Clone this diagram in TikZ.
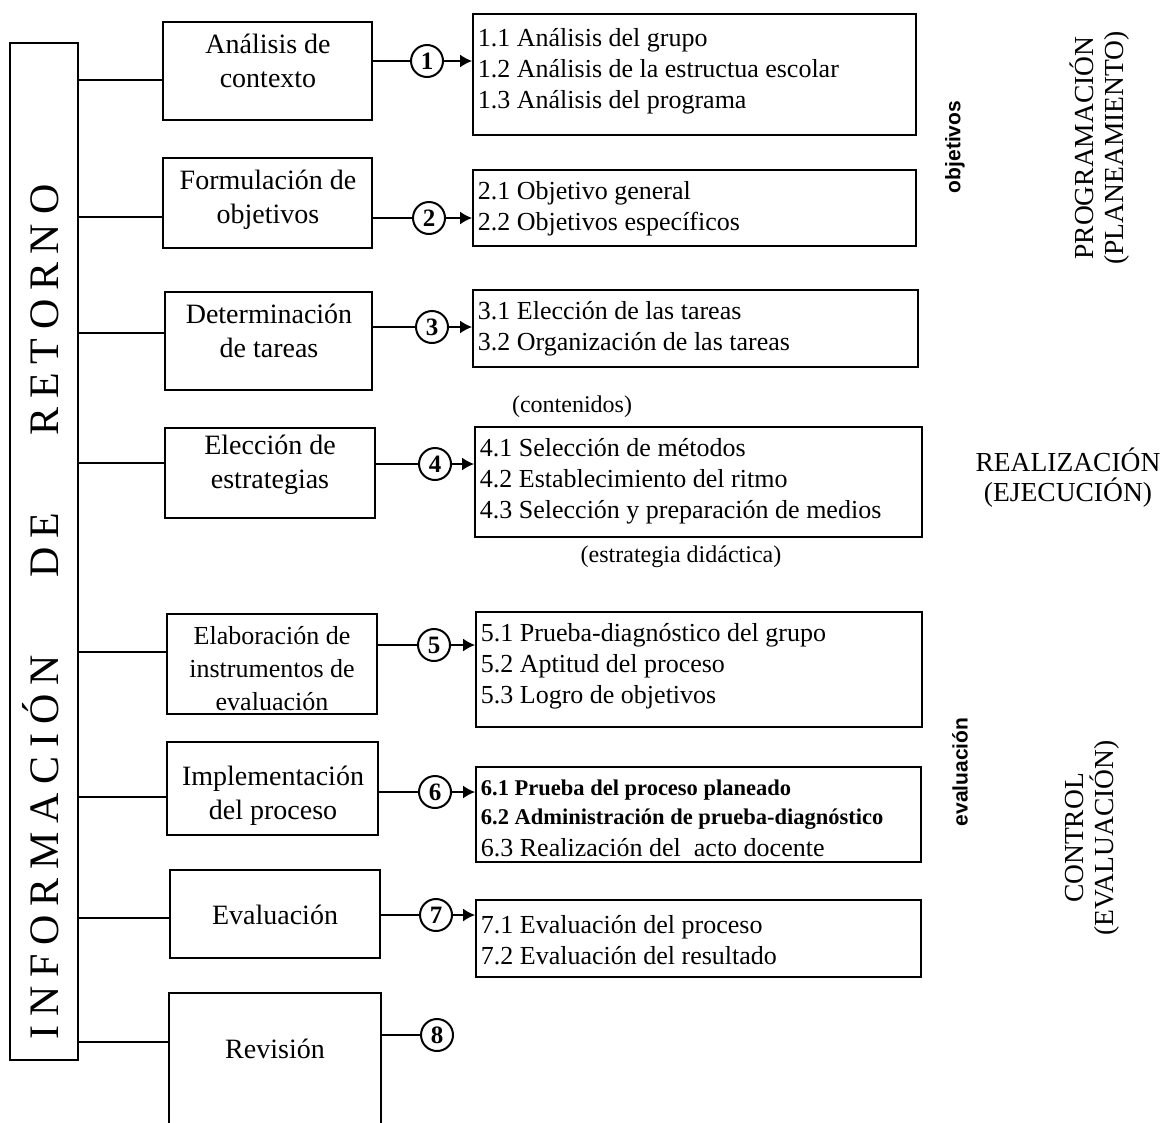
\documentclass[tikz,border=0pt]{standalone}
\usepackage{fontspec}
\setmainfont{Liberation Serif}
\newfontfamily\sansf{Liberation Sans}
\usetikzlibrary{arrows.meta,calc}
\begin{document}
\begin{tikzpicture}[x=1pt,y=-1pt, line width=1.8pt,
 mainbox/.style={draw, line width=2pt, inner sep=0pt},
 mtext/.style={align=center, inner sep=0pt, font=\fontsize{28}{34}\selectfont},
 detbox/.style={draw, line width=1.8pt, inner sep=0pt},
 dettext/.style={align=left, anchor=west, inner sep=0pt, font=\fontsize{26}{31}\selectfont},
 num/.style={draw, circle, minimum size=32pt, inner sep=0pt, line width=2pt, font=\fontsize{25}{25}\selectfont\bfseries},
 arr/.style={-{Latex[length=12pt,width=13pt]}},
 side/.style={align=center, inner sep=0pt, font=\fontsize{27.5}{30}\selectfont},
 small/.style={inner sep=0pt, font=\sansf\bfseries\fontsize{21}{21}\selectfont},
 paren/.style={inner sep=0pt, font=\fontsize{24}{24}\selectfont},
]
\useasboundingbox (0,0) rectangle (1161,1122);
\fill[white] (0,0) rectangle (1161,1122);
\begin{scope}
\clip (0,0) rectangle (1161,1122);

% left tall box
\node[mainbox, minimum width=68pt, minimum height=1017pt] (L) at (44,551.5) {};
\node[rotate=90, inner sep=0pt, font=\fontsize{42}{42}\selectfont] (Lt) at (41,612)
 {\makebox[855pt]{I\hfill N\hfill F\hfill O\hfill R\hfill M\hfill A\hfill C\hfill I\hfill Ó\hfill N\hfill\hspace{60pt}\hfill D\hfill E\hfill\hspace{60pt}\hfill R\hfill E\hfill T\hfill O\hfill R\hfill N\hfill O}};

% main boxes
\node[mainbox, minimum width=209pt, minimum height=98pt] (m1) at (267.5,71) {};
\node[mtext] (t1) at (268,61) {Análisis de\\contexto};
\node[mainbox, minimum width=209pt, minimum height=90pt] (m2) at (267.5,203) {};
\node[mtext] (t2) at (268,200) {Formulación de\\objetivos};
\node[mainbox, minimum width=207pt, minimum height=98pt] (m3) at (268.5,341) {};
\node[mtext] (t3) at (269,331) {Determinación\\de tareas};
\node[mainbox, minimum width=210pt, minimum height=90pt] (m4) at (270,473) {};
\node[mtext] (t4) at (270,465) {Elección de\\estrategias};
\node[mainbox, minimum width=210pt, minimum height=100pt] (m5) at (272,664) {};
\node[mtext, font=\fontsize{26}{33}\selectfont] (t5) at (272,669) {Elaboración de\\instrumentos de\\evaluación};
\node[mainbox, minimum width=211pt, minimum height=93pt] (m6) at (272.5,788.5) {};
\node[mtext] (t6) at (273,796) {Implementación\\del proceso};
\node[mainbox, minimum width=210pt, minimum height=88pt] (m7) at (275,914) {};
\node[mtext] (t7) at (275,915) {Evaluación};
\node[minimum width=210pt, minimum height=150pt, inner sep=0pt, anchor=north] (m8) at (275,993) {};
\draw[line width=2pt] (m8.south west) -- (m8.north west) -- (m8.north east) -- (m8.south east);
\node[mtext] (t8) at (275,1049) {Revisión};

% branches from left box
\foreach \i/\dy in {1/9,2/14,3/-8,4/-10,5/-12,6/8.5,7/4} {
  \draw ($(m\i.west)+(0,\dy)$) -- (L.east |- {$(m\i.west)+(0,\dy)$});
}
\coordinate (b8) at (m8.north west |- 0,1042);
\draw (b8) -- (L.east |- b8);

% circles
\node[num] (c1) at (427,61) {1};
\node[num] (c2) at (429,218) {2};
\node[num] (c3) at (432,327) {3};
\node[num] (c4) at (435,464) {4};
\node[num] (c5) at (434,645) {5};
\node[num] (c6) at (435,792) {6};
\node[num] (c7) at (436,915) {7};
\node[num] (c8) at (437,1035) {8};

\foreach \i in {1,...,7} { \draw (m\i.east |- c\i) -- (c\i); }
\draw (m8.east |- c8) -- (c8);

% detail boxes
\node[detbox, minimum width=443pt, minimum height=121pt] (d1) at (694.5,74.5) {};
\node[detbox, minimum width=443pt, minimum height=76pt] (d2) at (694.5,208) {};
\node[detbox, minimum width=445pt, minimum height=77pt] (d3) at (695.5,328.5) {};
\node[detbox, minimum width=447pt, minimum height=110pt] (d4) at (698.5,482) {};
\node[detbox, minimum width=446pt, minimum height=115pt] (d5) at (699,669.5) {};
\node[detbox, minimum width=445pt, minimum height=95pt] (d6) at (698.5,814.5) {};
\node[detbox, minimum width=445pt, minimum height=77pt] (d7) at (698.5,938.5) {};

\foreach \i in {1,...,7} { \draw[arr] (c\i) -- (d\i.west |- c\i); }

\node[dettext] (dt1) at (477,71) {1.1 Análisis del grupo\\1.2 Análisis de la estructua escolar\\1.3 Análisis del programa};
\node[dettext] (dt2) at (477,209) {2.1 Objetivo general\\2.2 Objetivos específicos};
\node[dettext] (dt3) at (477,329) {3.1 Elección de las tareas\\3.2 Organización de las tareas};
\node[dettext] (dt4) at (479,481) {4.1 Selección de métodos\\4.2 Establecimiento del ritmo\\4.3 Selección y preparación de medios};
\node[dettext] (dt5) at (480,666.5) {5.1 Prueba-diagnóstico del grupo\\5.2 Aptitud del proceso\\5.3 Logro de objetivos};
\node[dettext, font=\fontsize{22.5}{29}\selectfont] (dt6) at (480,805) {\textbf{6.1 Prueba del proceso planeado}\\\textbf{6.2 Administración de prueba-diagnóstico}};
\node[dettext] (dt6c) at (480,848) {6.3 Realización del\ \ acto docente};
\node[dettext] (dt7) at (480,940) {7.1 Evaluación del proceso\\7.2 Evaluación del resultado};

% annotations
\node[paren] (cont) at (572,407) {(contenidos)};
\node[paren] (estr) at (681,557) {(estrategia didáctica)};

\node[small, rotate=90] (ob) at (955,147) {objetivos};
\node[side, rotate=90] (prog) at (1100,148) {PROGRAMACIÓN\\(PLANEAMIENTO)};
\node[side] (real) at (1068,478) {REALIZACIÓN\\(EJECUCIÓN)};
\node[small, rotate=90] (ev) at (960,772) {evaluación};
\node[side, rotate=90] (ctrl) at (1092,838) {CONTROL\\(EVALUACIÓN)};
\end{scope}
\end{tikzpicture}
\end{document}
